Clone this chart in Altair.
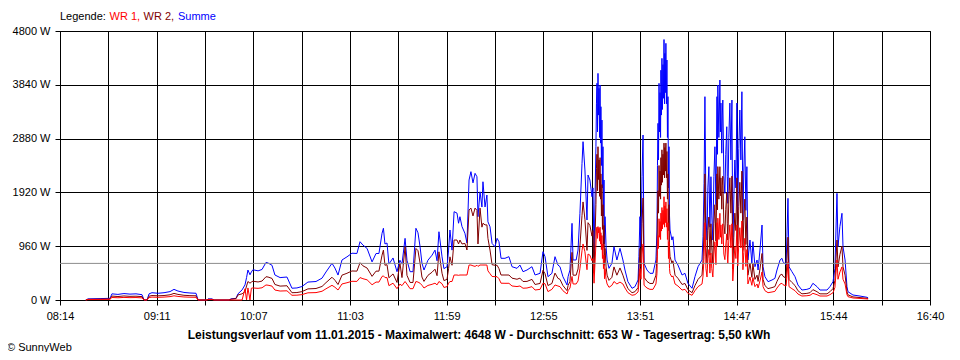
import altair as alt
import pandas as pd

# minutes after 08:14
T = [15.0, 16.3, 23.3, 29.1, 30.2, 33.7, 37.2, 40.7, 44.2, 47.7,
     48.9, 50.6, 51.8, 53.5, 57.0, 60.5, 64.0, 66.3, 68.6, 72.1,
     75.6, 79.1, 80.3, 85.5, 86.1, 88.4, 89.6, 98.3, 99.5, 102.4,
     103.5, 105.9, 107.6, 108.5, 109.3, 110.5, 111.3, 112.2, 115.2, 117.5,
     119.8, 121.0, 123.3, 125.0, 128.0, 132.0, 134.9, 137.8, 140.7, 144.2,
     148.9, 152.4, 154.7, 158.2, 159.9, 161.7, 164.0, 166.9, 169.8, 172.7,
     174.5, 176.2, 178.6, 181.5, 183.8, 185.5, 187.3, 188.1, 189.0, 190.2,
     191.3, 193.7, 196.0, 197.7, 198.9, 200.7, 201.8, 203.6, 205.3, 207.0,
     208.2, 209.4, 210.5, 211.7, 214.0, 216.4, 218.1, 219.3, 220.4, 222.2,
     223.3, 225.1, 226.0, 226.8, 228.0, 229.2, 230.9, 231.8, 232.6, 233.8,
     235.5, 236.7, 237.9, 239.0, 240.2, 241.4, 242.5, 243.1, 244.3, 245.4,
     246.0, 247.2, 248.3, 248.9, 250.1, 251.3, 253.0, 254.2, 255.3, 256.5,
     258.8, 261.1, 262.9, 265.8, 267.5, 269.3, 271.6, 274.5, 276.3, 279.2,
     280.9, 282.1, 283.8, 286.1, 287.9, 289.6, 290.8, 292.5, 294.9, 295.5,
     296.6, 297.8, 298.4, 300.2, 301.3, 302.4, 303.6, 304.2, 305.3, 306.5,
     307.1, 308.2, 309.4, 310.0, 310.6,
     # 12:55 burst
     311.7, 312.0, 312.3, 312.6, 312.9, 313.2, 313.5, 313.8, 314.1, 314.4,
     314.6, 314.9, 315.2, 315.5, 315.8, 316.1, 316.4, 316.7, 317.0, 317.6,
     # 13:05 - 13:45
     318.2, 319.3, 321.0, 322.2, 323.9, 325.7, 327.4, 328.6, 330.3, 332.7,
     334.4, 336.2, 336.7, 337.3, 337.9, 338.5, 339.1, 339.7, 341.4, 343.1,
     344.9, 346.6,
     # 13:51 burst
     347.2, 347.5, 347.8, 348.1, 348.4, 348.7, 349.0, 349.3, 349.5, 349.8,
     350.1, 350.4, 350.7, 351.0, 351.3, 351.6, 351.8, 352.1, 352.4, 352.7,
     353.0, 353.3, 353.6, 353.9, 354.2, 354.5, 354.8,
     # 14:10 - 14:27
     355.9, 356.5, 357.7, 359.4, 361.8, 363.5, 365.2, 367.6, 369.3, 371.1,
     373.4,
     # 14:28 - 14:54 burst
     374.0, 374.6, 375.1, 375.7, 376.3, 376.8, 377.4, 378.0, 378.6, 379.1,
     379.7, 380.3, 380.9, 381.5, 382.1, 382.4, 382.6, 383.2, 383.8, 384.1,
     384.4, 384.9, 385.2, 385.5, 386.1, 386.7, 387.2, 387.8, 388.1, 388.4,
     389.0, 389.6, 390.2, 390.8, 391.3, 391.9, 392.5, 393.1, 393.7, 394.2,
     394.8, 395.4, 396.0, 396.6, 397.2, 397.7, 398.3, 398.9, 399.5, 400.1,
     # afternoon
     401.3, 402.4, 403.0, 404.2, 405.4, 406.0, 407.1, 408.3, 408.9, 410.0,
     411.8, 414.1, 415.8, 417.0, 418.8, 419.9, 420.5, 422.3, 422.8, 423.4,
     424.0, 425.7, 427.5, 429.2, 431.5, 434.4, 436.2, 437.9, 440.3, 442.0,
     446.1, 447.8, 449.6, 450.7, 451.9, 452.5, 453.6, 454.8, 455.4, 456.6,
     457.7, 458.3, 461.2, 465.3, 469.4, 470.0]

SUMME = [0, 20, 25, 30, 110, 100, 115, 105, 110, 95,
         0, 0, 110, 130, 120, 130, 150, 190, 160, 135,
         125, 120, 0, 0, 20, 20, 0, 0, 20, 30,
         110, 180, 270, 400, 535, 450, 500, 540, 520, 545,
         670, 660, 620, 446, 400, 410, 210, 215, 240, 320,
         330, 390, 500, 655, 570, 445, 714, 770, 835, 830,
         1040, 980, 920, 680, 830, 830, 1190, 1280, 1000, 1017,
         640, 750, 505, 710, 640, 1100, 710, 505, 505, 1280,
         1200, 955, 660, 535, 710, 800, 890, 700, 1218, 770,
         560, 594, 890, 1249, 890, 1576, 1550, 1370, 1486, 1310,
         1190, 1017, 2141, 2290, 2090, 2260, 2200, 1486, 1930, 1660,
         2110, 1660, 1873, 1395, 1307, 1010, 950, 1100, 1040, 744,
         744, 773, 594, 565, 624, 505, 535, 594, 446, 476,
         862, 773, 416, 476, 773, 624, 594, 416, 268, 416,
         535, 1368, 714, 714, 892, 1547, 2438, 2825, 2320, 1427,
         2230, 2141, 1843, 2000, 773,
         2735, 3500, 3866, 3000, 4044, 3300, 3776, 2900, 3836, 2800,
         3449, 2400, 3211, 2000, 2735, 1500, 2141, 1000, 1487, 952,
         714, 565, 654, 952, 714, 922, 714, 535, 327, 209,
         238, 357, 773, 1487, 952, 2200, 2944, 654, 535, 476,
         476, 714,
         1249, 2400, 3152, 2500, 3866, 3000, 3700, 2900, 4100, 3300,
         4312, 3400, 4200, 3600, 4648, 3500, 4400, 3700, 4580, 3500,
         4282, 2900, 3628, 2000, 2735, 1500, 1249,
         1070, 1130, 714, 624, 446, 476, 298, 209, 416, 594,
         714,
         1130, 2080, 3628, 1500, 1070, 2000, 2379, 1300, 2200, 1500,
         1070, 2200, 2735, 1700, 3628, 2600, 3836, 2900, 3925, 3000,
         3514, 2620, 3300, 3568, 2200, 1903, 2600, 3092, 2200, 1725,
         2900, 3514, 2500, 3568, 892, 1800, 2498, 2000, 3514, 1606,
         2700, 3390, 2500, 3716, 1427, 2300, 2913, 1600, 2379, 714,
         1070, 654, 1040, 594, 714, 535, 892, 1338, 594, 416,
         327, 357, 386, 535, 714, 744, 684, 624, 1130, 1814,
         594, 505, 416, 268, 178, 190, 209, 298, 238, 178,
         178, 238, 327, 560, 1903, 952, 1310, 1547, 952, 714,
         238, 148, 89, 70, 48, 40]

WR1 = [0, 8, 10, 12, 45, 40, 46, 42, 44, 38,
       0, 0, 44, 52, 48, 52, 60, 75, 64, 54,
       50, 48, 0, 0, 8, 8, 0, 0, 0, 0,
       0, 0, 200, 0, 215, 0, 210, 215, 208, 218,
       268, 264, 248, 178, 160, 164, 84, 86, 96, 128,
       132, 156, 200, 262, 228, 178, 286, 308, 334, 332,
       400, 380, 360, 272, 320, 320, 420, 430, 400, 400,
       256, 300, 202, 284, 256, 330, 284, 202, 202, 330,
       320, 300, 264, 214, 260, 280, 300, 270, 330, 290,
       224, 238, 300, 330, 330, 446, 446, 440, 446, 446,
       446, 446, 624, 624, 610, 600, 620, 600, 624, 624,
       624, 624, 624, 520, 470, 420, 416, 416, 380, 300,
       298, 298, 250, 240, 250, 210, 214, 238, 178, 190,
       300, 290, 150, 190, 268, 250, 238, 166, 107, 166,
       214, 420, 286, 286, 340, 560, 880, 1000, 860, 540,
       820, 800, 700, 740, 300,
       1000, 1250, 1300, 1100, 1310, 1200, 1280, 1050, 1300, 1000,
       1200, 900, 1150, 740, 1000, 560, 800, 380, 560, 370,
       286, 226, 262, 330, 286, 320, 286, 214, 131, 84,
       95, 143, 300, 560, 370, 820, 1000, 262, 214, 190,
       190, 286,
       470, 880, 1150, 920, 1450, 1120, 1400, 1080, 1550, 1230,
       1650, 1270, 1600, 1350, 1843, 1300, 1680, 1380, 1750, 1300,
       1630, 1080, 1380, 740, 1040, 560, 470,
       410, 430, 286, 250, 178, 190, 119, 84, 166, 238,
       286,
       430, 780, 1380, 560, 410, 740, 900, 480, 840, 560,
       410, 820, 1040, 630, 1380, 960, 1460, 1080, 1547, 1120,
       1340, 1000, 1230, 1360, 820, 720, 960, 1180, 820, 660,
       1080, 1340, 930, 1360, 340, 670, 950, 740, 1340, 610,
       1000, 1290, 930, 1410, 540, 850, 1100, 600, 900, 286,
       410, 262, 400, 238, 286, 214, 340, 500, 238, 166,
       131, 143, 154, 214, 286, 298, 274, 250, 430, 680,
       238, 202, 166, 107, 71, 76, 84, 119, 95, 71,
       71, 95, 131, 224, 714, 370, 500, 590, 370, 286,
       95, 59, 36, 28, 19, 16]

WR2 = [0, 12, 15, 18, 70, 62, 72, 65, 68, 60,
       0, 0, 68, 80, 75, 80, 93, 118, 100, 84,
       78, 75, 0, 0, 12, 12, 0, 0, 15, 25,
       90, 110, 150, 250, 330, 300, 320, 335, 322, 338,
       415, 410, 385, 277, 248, 254, 130, 133, 149, 198,
       205, 242, 310, 406, 353, 276, 443, 477, 518, 515,
       665, 610, 570, 422, 515, 515, 800, 890, 620, 630,
       397, 465, 313, 660, 400, 950, 440, 313, 313, 920,
       880, 660, 410, 332, 440, 496, 550, 434, 860, 477,
       347, 368, 560, 770, 620, 1070, 1070, 1000, 1070, 1000,
       1010, 892, 1606, 1640, 1500, 1640, 1600, 1000, 1640, 1300,
       1370, 1340, 1340, 1100, 892, 630, 620, 620, 560, 446,
       446, 446, 390, 370, 390, 330, 332, 368, 277, 295,
       530, 470, 258, 295, 480, 387, 368, 258, 166, 258,
       332, 850, 443, 443, 553, 960, 1510, 1750, 1440, 885,
       1380, 1330, 1140, 1240, 480,
       1700, 2350, 2600, 1950, 2735, 2150, 2500, 1850, 2540, 1800,
       2250, 1500, 2060, 1260, 1700, 940, 1330, 620, 920, 590,
       443, 350, 405, 590, 443, 572, 443, 332, 203, 130,
       148, 221, 480, 920, 590, 1360, 1820, 405, 332, 295,
       295, 443,
       775, 1500, 1950, 1550, 2400, 1850, 2300, 1800, 2540, 2050,
       2680, 2100, 2600, 2230, 2800, 2180, 2720, 2300, 2800, 2180,
       2650, 1800, 2250, 1240, 1700, 930, 775,
       660, 700, 443, 387, 277, 295, 185, 130, 258, 368,
       443,
       700, 1290, 2250, 930, 660, 1240, 1480, 800, 1360, 930,
       660, 1360, 1700, 1050, 2250, 1610, 2380, 1800, 2379, 1860,
       2180, 1620, 2050, 2210, 1360, 1180, 1610, 1920, 1360, 1070,
       1800, 2180, 1550, 2210, 553, 1120, 1550, 1240, 2180, 1000,
       1670, 2100, 1550, 2300, 885, 1430, 1800, 990, 1480, 443,
       660, 405, 645, 368, 443, 332, 553, 830, 368, 258,
       203, 221, 239, 332, 443, 461, 424, 387, 700, 1120,
       368, 313, 258, 166, 110, 118, 130, 185, 148, 110,
       110, 148, 203, 347, 1070, 590, 810, 960, 590, 443,
       148, 92, 55, 43, 30, 25]

X_LABELS = ["08:14", "09:11", "10:07", "11:03", "11:59",
            "12:55", "13:51", "14:47", "15:44", "16:40"]
Y_TICKS = [0, 960, 1920, 2880, 3840, 4800]
SPAN = 506          # minutes from 08:14 to 16:40
AVERAGE = 653
TITLE = ("Leistungsverlauf vom 11.01.2015 - Maximalwert: 4648 W - "
         "Durchschnitt: 653 W - Tagesertrag: 5,50 kWh")

assert len(T) == len(SUMME) == len(WR1) == len(WR2), (len(T), len(SUMME), len(WR1), len(WR2))

FONT = "Liberation Sans"
W, H = 870, 269

df = pd.DataFrame({"t": T, "summe": SUMME, "wr1": WR1, "wr2": WR2})

step = SPAN / 18
xvals = [round(i * step, 4) for i in range(19)]
labels_js = "[" + ",".join("'%s'" % s for s in X_LABELS) + "]"
label_expr = ("round(datum.value/%f) %% 2 == 0 ? %s[round(datum.value/%f)/2] : ''"
              % (step, labels_js, step))

axis_common = dict(grid=True, gridColor="black", gridOpacity=1, gridWidth=1,
                   domainColor="black", domainWidth=1, tickColor="black",
                   tickSize=5, tickWidth=1, labelColor="black", labelFont=FONT,
                   labelFontSize=11, labelFlush=False, labelOverlap=False,
                   title=None)

xenc = alt.X("t:Q", scale=alt.Scale(domain=[0, SPAN], nice=False, zero=False),
             axis=alt.Axis(values=xvals, labelExpr=label_expr, labelPadding=5,
                           **axis_common))
yscale = alt.Scale(domain=[0, 4800], nice=False, zero=True)
yaxis = alt.Axis(values=Y_TICKS, labelExpr="datum.value + ' W'", labelPadding=5,
                 **axis_common)

base = alt.Chart(df)
blue = base.mark_line(color="#0000FF", strokeWidth=1).encode(
    x=xenc, y=alt.Y("summe:Q", scale=yscale, axis=yaxis))
dark = base.mark_line(color="#800000", strokeWidth=1).encode(
    x=alt.X("t:Q"), y=alt.Y("wr2:Q"))
red = base.mark_line(color="#FF0000", strokeWidth=1).encode(
    x=alt.X("t:Q"), y=alt.Y("wr1:Q"))

avg = alt.Chart(pd.DataFrame({"v": [AVERAGE]})).mark_rule(
    color="#8c8c8c", strokeWidth=1).encode(y=alt.Y("v:Q"))

one = pd.DataFrame({"a": [0]})


def txt(s, x, y, color="black", size=11, weight="normal", align="left"):
    return alt.Chart(one).mark_text(
        font=FONT, fontSize=size, fontWeight=weight, color=color,
        align=align, baseline="alphabetic").encode(
        x=alt.value(x), y=alt.value(y), text=alt.value(s))


legend = (txt("Legende:", 0, -11) + txt("WR 1,", 49.5, -11, "#FF0000") +
          txt("WR 2,", 83.5, -11, "#800000") + txt("Summe", 118, -11, "#0000FF"))
title = txt(TITLE, 419, 308, size=12, weight="bold", align="center")
credit = txt("\u00a9 SunnyWeb", -53, 320)

chart = alt.layer(blue, dark, red, avg, legend, title, credit).properties(
    width=W, height=H,
    autosize=alt.AutoSizeParams(type="none"),
    padding={"left": 52, "top": 23, "right": 18, "bottom": 52},
    background="white",
).configure_view(stroke="black", strokeWidth=1)

chart.save("out.html", embed_options={"renderer": "svg", "actions": False})
